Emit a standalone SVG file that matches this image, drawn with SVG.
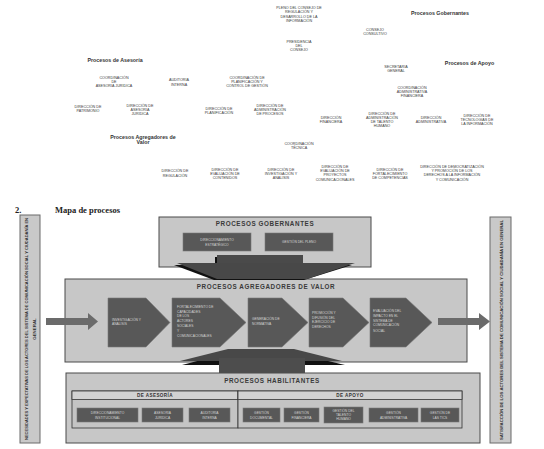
<svg xmlns="http://www.w3.org/2000/svg" width="544" height="449" viewBox="0 0 544 449">
<style>
.s{font-family:"Liberation Sans",Arial,sans-serif;font-size:3.7px;fill:#3a3a3a;text-anchor:middle}
.h{font-family:"Liberation Sans",Arial,sans-serif;font-size:5.3px;font-weight:bold;fill:#333;text-anchor:middle}
.box{fill:#c7c7c7;stroke:#4a4a4a;stroke-width:1}
.bar{fill:#c9c9c9;stroke:#6a6a6a;stroke-width:1}
.ttl{font-family:"Liberation Sans",Arial,sans-serif;font-size:6.3px;font-weight:bold;fill:#3a3a3a;text-anchor:middle;letter-spacing:0.6px}
.sub{font-family:"Liberation Sans",Arial,sans-serif;font-size:4.6px;font-weight:bold;fill:#333;text-anchor:middle;letter-spacing:0.4px}
.dk{fill:#585858;stroke:#7a7a7a;stroke-width:0.6}
.lt{font-family:"Liberation Sans",Arial,sans-serif;font-size:3.3px;fill:#d4d4d4;text-anchor:middle}
.ll{font-family:"Liberation Sans",Arial,sans-serif;font-size:3.3px;fill:#d4d4d4}
.vt{font-family:"Liberation Sans",Arial,sans-serif;font-size:4.4px;font-weight:bold;fill:#333;text-anchor:middle}
.pan{fill:#c4c4c4;stroke:#333;stroke-width:0.8}
.hb{fill:#d2d2d2;stroke:#333;stroke-width:0.8}
.arr{fill:#6b6b6b}
</style>
<rect width="544" height="449" fill="#ffffff"/>

<!-- Organigram (top) -->
<g id="organigrama">
<g id="pleno"><text class="s" x="299" y="8.6">PLENO DEL CONSEJO DE</text><text class="s" x="299" y="13.1">REGULACIÓN Y</text><text class="s" x="299" y="17.5">DESARROLLO DE LA</text><text class="s" x="299" y="22">INFORMACIÓN</text></g>
<g id="lbl-gobernantes"><text class="h" x="440" y="15">Procesos Gobernantes</text></g>
<g id="consejo-consultivo"><text class="s" x="375" y="30.6">CONSEJO</text><text class="s" x="375" y="34.8">CONSULTIVO</text></g>
<g id="presidencia"><text class="s" x="299" y="43">PRESIDENCIA</text><text class="s" x="299" y="47.2">DEL</text><text class="s" x="299" y="51.4">CONSEJO</text></g>
<g id="lbl-asesoria"><text class="h" x="115" y="62">Procesos de Asesoría</text></g>
<g id="coord-asesoria"><text class="s" x="114" y="78.6">COORDINACIÓN</text><text class="s" x="114" y="82.8">DE</text><text class="s" x="114" y="87">ASESORÍA JURÍDICA</text></g>
<g id="auditoria"><text class="s" x="179" y="81.3">AUDITORÍA</text><text class="s" x="179" y="85.6">INTERNA</text></g>
<g id="coord-planificacion"><text class="s" x="247" y="78.6">COORDINACIÓN DE</text><text class="s" x="247" y="82.8">PLANIFICACIÓN Y</text><text class="s" x="247" y="87">CONTROL DE GESTIÓN</text></g>
<g id="secretaria"><text class="s" x="396" y="68">SECRETARÍA</text><text class="s" x="396" y="72.2">GENERAL</text></g>
<g id="lbl-apoyo"><text class="h" x="469.5" y="65">Procesos de Apoyo</text></g>
<g id="coord-admin"><text class="s" x="412" y="89">COORDINACIÓN</text><text class="s" x="412" y="93.2">ADMINISTRATIVA</text><text class="s" x="412" y="97.4">FINANCIERA</text></g>
<g id="dir-patrimonio"><text class="s" x="88" y="108">DIRECCIÓN DE</text><text class="s" x="88" y="112.3">PATRIMONIO</text></g>
<g id="dir-asesoria"><text class="s" x="140" y="107">DIRECCIÓN DE</text><text class="s" x="140" y="111.2">ASESORÍA</text><text class="s" x="140" y="115.4">JURÍDICA</text></g>
<g id="dir-planificacion"><text class="s" x="219" y="109.6">DIRECCIÓN DE</text><text class="s" x="219" y="113.8">PLANIFICACIÓN</text></g>
<g id="dir-procesos"><text class="s" x="270" y="107">DIRECCIÓN DE</text><text class="s" x="270" y="111.2">ADMINISTRACIÓN</text><text class="s" x="270" y="115.4">DE PROCESOS</text></g>
<g id="dir-financiera"><text class="s" x="331" y="118.6">DIRECCIÓN</text><text class="s" x="331" y="122.8">FINANCIERA</text></g>
<g id="dir-talento"><text class="s" x="382" y="114.6">DIRECCIÓN DE</text><text class="s" x="382" y="118.8">ADMINISTRACIÓN</text><text class="s" x="382" y="123">DE TALENTO</text><text class="s" x="382" y="127.2">HUMANO</text></g>
<g id="dir-administrativa"><text class="s" x="431" y="118.6">DIRECCIÓN</text><text class="s" x="431" y="122.8">ADMINISTRATIVA</text></g>
<g id="dir-tecnologias"><text class="s" x="477" y="117">DIRECCIÓN DE</text><text class="s" x="477" y="121.2">TECNOLOGÍAS DE</text><text class="s" x="477" y="125.4">LA INFORMACIÓN</text></g>
<g id="lbl-agregadores"><text class="h" x="143" y="138.5">Procesos Agregadores de</text><text class="h" x="143" y="144.2">Valor</text></g>
<g id="coord-tecnica"><text class="s" x="299" y="144.6">COORDINACIÓN</text><text class="s" x="299" y="148.8">TÉCNICA</text></g>
<g id="dir-regulacion"><text class="s" x="175" y="172.3">DIRECCIÓN DE</text><text class="s" x="175" y="176.5">REGULACIÓN</text></g>
<g id="dir-contenidos"><text class="s" x="225" y="170.6">DIRECCIÓN DE</text><text class="s" x="225" y="174.8">EVALUACIÓN DE</text><text class="s" x="225" y="179">CONTENIDOS</text></g>
<g id="dir-investigacion"><text class="s" x="281" y="170.6">DIRECCIÓN DE</text><text class="s" x="281" y="174.8">INVESTIGACIÓN Y</text><text class="s" x="281" y="179">ANÁLISIS</text></g>
<g id="dir-proyectos"><text class="s" x="335" y="168">DIRECCIÓN DE</text><text class="s" x="335" y="172.2">EVALUACIÓN DE</text><text class="s" x="335" y="176.4">PROYECTOS</text><text class="s" x="335" y="180.6">COMUNICACIONALES</text></g>
<g id="dir-competencias"><text class="s" x="390" y="171">DIRECCIÓN DE</text><text class="s" x="390" y="175.2">FORTALECIMIENTO</text><text class="s" x="390" y="179.4">DE COMPETENCIAS</text></g>
<g id="dir-democratizacion"><text class="s" x="452" y="168">DIRECCIÓN DE DEMOCRATIZACIÓN</text><text class="s" x="452" y="172.2">Y PROMOCIÓN DE LOS</text><text class="s" x="452" y="176.4">DERECHOS A LA INFORMACIÓN</text><text class="s" x="452" y="180.6">Y COMUNICACIÓN</text></g>
</g>

<!-- Section heading -->
<g id="heading">
<text x="15" y="213" font-family="'Liberation Serif',serif" font-size="8.5" font-weight="bold" fill="#222">2.</text>
<text x="55" y="213" font-family="'Liberation Serif',serif" font-size="8.5" font-weight="bold" fill="#222">Mapa de procesos</text>
</g>

<!-- Side bars -->
<g id="necesidades">
<rect class="bar" x="20" y="215" width="20" height="228"/>
<text class="vt" transform="translate(28,329) rotate(-90)" x="0" y="0" textLength="222" lengthAdjust="spacingAndGlyphs">NECESIDADES Y EXPECTATIVAS DE LOS ACTORES DEL SISTEMA DE COMUNICACIÓN SOCIAL Y CIUDADANÍA EN</text>
<text class="vt" transform="translate(36,329) rotate(-90)" x="0" y="0">GENERAL</text>
</g>
<g id="satisfaccion">
<rect class="bar" x="490" y="217" width="21" height="226"/>
<text class="vt" transform="translate(503,330) rotate(-90)" x="0" y="0" textLength="220" lengthAdjust="spacingAndGlyphs">SATISFACCIÓN DE LOS ACTORES DEL SISTEMA DE COMUNICACIÓN SOCIAL Y CIUDADANÍA EN GENERAL</text>
</g>

<!-- Procesos gobernantes -->
<g id="gobernantes">
<rect class="box" x="159" y="217" width="212" height="50"/>
<text class="ttl" x="265" y="225.5">PROCESOS GOBERNANTES</text>
<rect class="dk" x="183" y="233" width="68" height="18"/>
<text class="lt" x="217" y="241">DIRECCIONAMIENTO</text><text class="lt" x="217" y="245.5">ESTRATÉGICO</text>
<rect class="dk" x="265" y="233" width="68" height="18"/>
<text class="lt" x="299" y="243.3">GESTIÓN DEL PLENO</text>
</g>

<!-- Procesos agregadores de valor -->
<g id="agregadores">
<rect class="box" x="65" y="279" width="402" height="83"/>
<text class="ttl" x="266" y="288.5">PROCESOS AGREGADORES DE VALOR</text>
</g>
<g id="investigacion">
<polygon class="dk" points="108,298 146,298 170,322.5 146,347 108,347"/>
<text class="ll" x="112" y="320.5">INVESTIGACIÓN Y</text><text class="ll" x="112" y="325">ANÁLISIS</text>
</g>
<g id="fortalecimiento">
<polygon class="dk" points="172,298 220,298 246,322.5 220,347 172,347"/>
<text class="ll" x="177" y="308">FORTALECIMIENTO DE</text><text class="ll" x="177" y="312.7">CAPACIDADES</text><text class="ll" x="177" y="317.4">DE LOS</text><text class="ll" x="177" y="322.1">ACTORES</text><text class="ll" x="177" y="326.8">SOCIALES</text><text class="ll" x="177" y="331.5">Y</text><text class="ll" x="177" y="337">COMUNICACIONALES</text>
</g>
<g id="normativa">
<polygon class="dk" points="248,298 282,298 308,322.5 282,347 248,347"/>
<text class="ll" x="252" y="320">GENERACIÓN DE</text><text class="ll" x="252" y="324.5">NORMATIVA</text>
</g>
<g id="promocion">
<polygon class="dk" points="309,298 343,298 369,322.5 343,347 309,347"/>
<text class="ll" x="312" y="314">PROMOCIÓN Y</text><text class="ll" x="312" y="318.6">DIFUSIÓN DEL</text><text class="ll" x="312" y="323.2">EJERCICIO DE</text><text class="ll" x="312" y="327.8">DERECHOS</text>
</g>
<g id="evaluacion">
<polygon class="dk" points="370,298 406,298 432,322.5 406,347 370,347"/>
<text class="ll" x="373" y="312">EVALUACIÓN DEL</text><text class="ll" x="373" y="316.8">IMPACTO EN EL</text><text class="ll" x="373" y="321.6">SISTEMA DE</text><text class="ll" x="373" y="326.4">COMUNICACIÓN</text><text class="ll" x="373" y="332">SOCIAL</text>
</g>

<!-- Procesos habilitantes -->
<g id="habilitantes">
<rect class="box" x="66" y="373" width="414" height="70"/>
<text class="ttl" x="272" y="382.5">PROCESOS HABILITANTES</text>
</g>
<g id="de-asesoria">
<rect class="pan" x="72" y="391" width="166" height="37"/>
<rect class="hb" x="72" y="391" width="166" height="8.5"/>
<text class="sub" x="155" y="397.2">DE ASESORÍA</text>
<rect class="dk" x="77" y="408" width="61" height="14"/>
<text class="lt" x="107.5" y="414">DIRECCIONAMIENTO</text><text class="lt" x="107.5" y="418.5">INSTITUCIONAL</text>
<rect class="dk" x="142" y="408" width="41" height="14"/>
<text class="lt" x="162.5" y="414">ASESORÍA</text><text class="lt" x="162.5" y="418.5">JURÍDICA</text>
<rect class="dk" x="189" y="408" width="41" height="14"/>
<text class="lt" x="209.5" y="414">AUDITORÍA</text><text class="lt" x="209.5" y="418.5">INTERNA</text>
</g>
<g id="de-apoyo">
<rect class="pan" x="238" y="391" width="224" height="37"/>
<rect class="hb" x="238" y="391" width="224" height="8.5"/>
<text class="sub" x="350" y="397.2">DE APOYO</text>
<rect class="dk" x="243" y="408" width="37" height="14"/>
<text class="lt" x="261.5" y="414">GESTIÓN</text><text class="lt" x="261.5" y="418.5">DOCUMENTAL</text>
<rect class="dk" x="284" y="408" width="35" height="14"/>
<text class="lt" x="301.5" y="414">GESTIÓN</text><text class="lt" x="301.5" y="418.5">FINANCIERA</text>
<rect class="dk" x="324" y="407" width="39" height="16"/>
<text class="lt" x="343.5" y="411.5">GESTIÓN DEL</text><text class="lt" x="343.5" y="415.7">TALENTO</text><text class="lt" x="343.5" y="420">HUMANO</text>
<rect class="dk" x="369" y="408" width="49" height="14"/>
<text class="lt" x="393.5" y="414">GESTIÓN</text><text class="lt" x="393.5" y="418.5">ADMINISTRATIVA</text>
<rect class="dk" x="421" y="408" width="38" height="14"/>
<text class="lt" x="440" y="414">GESTIÓN DE</text><text class="lt" x="440" y="418.5">LAS TICS</text>
</g>

<!-- Connectors -->
<g id="connectors">
<polygon class="arr" points="46,318 88,318 88,313 98,321.5 88,330 88,325 46,325"/>
<polygon class="arr" points="438,318 479,318 479,313 490,321.5 479,330 479,325 438,325"/>
<!-- gobernantes -> agregadores -->
<rect x="215" y="257" width="86" height="8" fill="#111"/>
<polygon points="174,265 352,265 304,280 214,280" fill="#111"/>
<rect x="217" y="255" width="86" height="9" fill="#4a4a4a"/>
<polygon points="177,263 355,263 307,279 217,279" fill="#484848"/>
<!-- habilitantes -> agregadores -->
<polygon points="182,365 228,353 294,353 345,365" fill="#111"/>
<polygon points="180,361 228,349 294,349 342,361" fill="#484848"/>
<rect x="219" y="358" width="86" height="15" fill="#4d4d4d"/>
</g>
</svg>
